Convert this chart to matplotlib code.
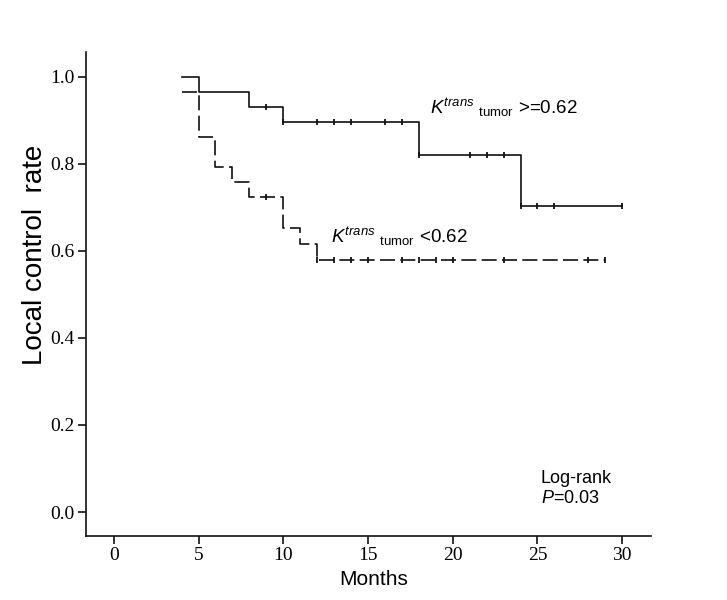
import numpy as np
import matplotlib
matplotlib.use("Agg")
import matplotlib.pyplot as plt

# 字体设置
plt.rcParams['font.family'] = ['Liberation Sans', 'DejaVu Sans']
plt.rcParams['mathtext.fontset'] = 'custom'
plt.rcParams['mathtext.rm'] = 'Liberation Sans'
plt.rcParams['mathtext.it'] = 'Liberation Sans:italic'

# Kaplan-Meier 曲线数据
high_times = [4, 5, 8, 10, 18, 24, 30]
high_surv  = [1.0, 0.966, 0.931, 0.897, 0.821, 0.704, 0.704]
high_cens  = [9, 10, 12, 13, 14, 16, 17, 18, 21, 22, 23, 24, 25, 26, 30]

low_times = [4, 5, 6, 7, 8, 10, 11, 12, 29]
low_surv  = [0.966, 0.862, 0.793, 0.759, 0.724, 0.652, 0.616, 0.580, 0.580]
low_cens  = [9, 12, 13, 14, 15, 17, 18, 19, 20, 23, 28, 29]

x_ticks = [0, 5, 10, 15, 20, 25, 30]
y_ticks = [0.0, 0.2, 0.4, 0.6, 0.8, 1.0]


def surv_at(times, surv, t):
    idx = np.searchsorted(times, t, side='right') - 1
    return surv[idx]


fig = plt.figure(figsize=(7.27, 6.0), dpi=100)
ax = fig.add_axes([0.1183, 0.1067, 0.7772, 0.8066])

# 实线组
ax.step(high_times, high_surv, where='post', color='#111111', lw=1.2)
ax.plot(high_cens, [surv_at(high_times, high_surv, t) for t in high_cens],
        ls='none', marker='|', ms=4.5, mew=1.3, color='#111111')

# 虚线组
ax.step(low_times, low_surv, where='post', color='#111111', lw=1.2,
        linestyle=(0, (9, 3.2)))
ax.plot(low_cens, [surv_at(low_times, low_surv, t) for t in low_cens],
        ls='none', marker='|', ms=4.5, mew=1.3, color='#111111')

ax.set_xlim(-1.64, 31.7)
ax.set_ylim(-0.055, 1.057)
ax.set_xticks(x_ticks)
ax.set_yticks(y_ticks)
ax.set_xticklabels([str(v) for v in x_ticks], family='Liberation Serif', fontsize=14)
ax.set_yticklabels(['%.1f' % v for v in y_ticks], family='Liberation Serif', fontsize=14)
ax.tick_params(direction='out', length=6, width=1.2, color='#111111', pad=2)

for side in ['top', 'right']:
    ax.spines[side].set_visible(False)
for side in ['left', 'bottom']:
    ax.spines[side].set_linewidth(1.2)
    ax.spines[side].set_color('#111111')

ax.set_xlabel('Months', fontsize=15)
ax.xaxis.set_label_coords(0.51, -0.071)
ax.set_ylabel('Local control  rate', fontsize=20)
ax.yaxis.set_label_coords(-0.067, 0.58)

# 曲线标注
ax.text(18.66, 0.915, r'$K^{trans}\ {}_{\mathrm{tumor}}$ >=0.62', fontsize=13.5,
        va='baseline', ha='left')
ax.text(12.83, 0.618, r'$K^{trans}\ {}_{\mathrm{tumor}}$ <0.62', fontsize=13.5,
        va='baseline', ha='left')

ax.text(25.2, 0.067, 'Log-rank', fontsize=13, va='baseline', ha='left')
ax.text(25.2, 0.020, r'$P$=0.03', fontsize=13, va='baseline', ha='left')

fig.savefig('out.png', dpi=100)
